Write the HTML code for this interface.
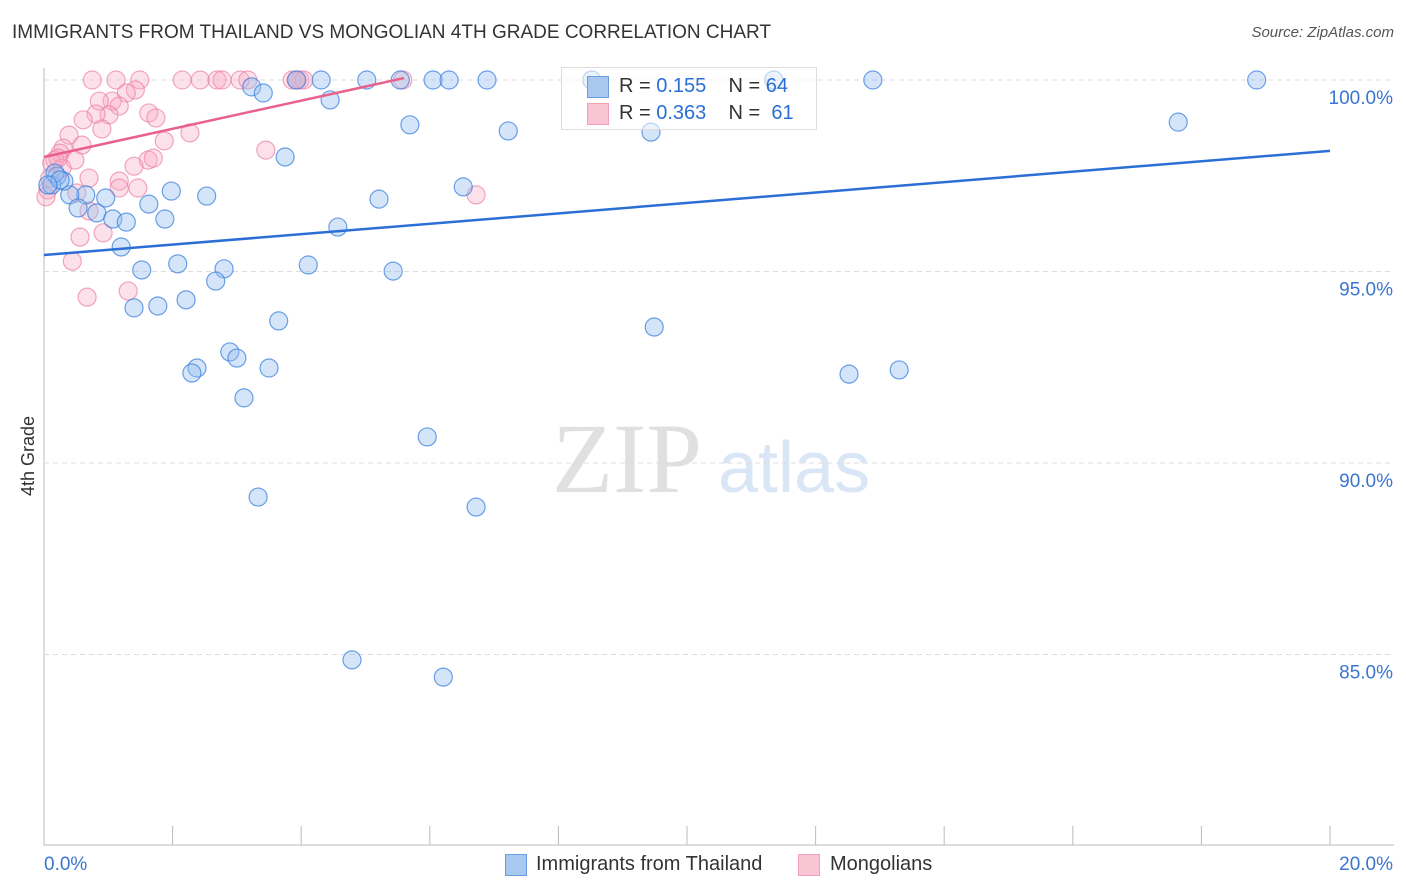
<!DOCTYPE html>
<html><head><meta charset="utf-8"><style>
body{margin:0;background:#fff;font-family:"Liberation Sans",sans-serif}
#wrap{position:relative;width:1406px;height:892px}
.t{position:absolute;white-space:nowrap}
</style></head><body>
<div id="wrap">
<div class="t" style="left:12px;top:22px;font-size:19px;color:#333">IMMIGRANTS FROM THAILAND VS MONGOLIAN 4TH GRADE CORRELATION CHART</div>
<div class="t" style="right:12px;top:24px;font-size:15px;color:#555;font-style:italic">Source: ZipAtlas.com</div>
<svg id="svg" width="1406" height="892" style="position:absolute;left:0;top:0">
<text x="552" y="492" font-family="Liberation Serif" font-size="100" fill="#e0e0e0">ZIP</text>
<text x="718" y="492" font-family="Liberation Sans" font-size="72" fill="#d8e6f6">atlas</text>
<text transform="translate(34,456) rotate(-90)" text-anchor="middle" font-size="18" fill="#333">4th Grade</text>
</svg>
<div class="t" style="left:561px;top:67px;width:254px;height:61px;border:1px solid #ddd;background:rgba(255,255,255,0.55)">
<div style="position:absolute;left:25px;top:8px;width:20px;height:20px;background:#a9c8f0;border:1px solid #6a9ce0"></div>
<div class="t" style="left:57px;top:7px;font-size:20px;color:#333">R = <span style="color:#2b6fd6">0.155</span>&nbsp;&nbsp;&nbsp; N = <span style="color:#2b6fd6">64</span></div>
<div style="position:absolute;left:25px;top:35px;width:20px;height:20px;background:#f9c4d4;border:1px solid #f0a0b8"></div>
<div class="t" style="left:57px;top:34px;font-size:20px;color:#333">R = <span style="color:#2b6fd6">0.363</span>&nbsp;&nbsp;&nbsp; N = &nbsp;<span style="color:#2b6fd6">61</span></div>
</div>
<div style="position:absolute;left:505px;top:854px;width:20px;height:20px;background:#a9c8f0;border:1px solid #6a9ce0"></div>
<div class="t" style="left:536px;top:853px;font-size:20px;color:#333">Immigrants from Thailand</div>
<div style="position:absolute;left:798px;top:854px;width:20px;height:20px;background:#f9c4d4;border:1px solid #f0a0b8"></div>
<div class="t" style="left:830px;top:853px;font-size:20px;color:#333">Mongolians</div>
</div>
<script>
const yTicks=[100,95,90,85];
const yTickLabels=["100.0%","95.0%","90.0%","85.0%"];
const xTickLabels=["0.0%","20.0%"];
const blueX=[8.52,11.35,12.89,18.86,6.05,6.30,6.89,5.02,4.31,3.93,5.54,3.23,3.41,4.45,5.69,7.22,9.44,17.64,3.75,6.52,1.98,2.53,5.21,1.63,0.96,0.65,0.40,0.31,0.20,0.12,0.53,0.82,1.07,1.28,1.88,4.57,1.20,1.52,2.08,2.80,4.11,5.43,2.67,1.40,1.77,2.21,3.65,9.49,2.89,3.00,2.38,2.30,3.50,12.52,13.30,3.11,5.96,3.33,6.72,4.79,6.21,0.17,0.25,0.06];
const blueY=[100,100,100,100,100,100,100,100,100,100,100,99.82,99.66,99.48,98.83,98.67,98.64,98.90,97.99,97.21,97.10,96.97,96.89,96.76,96.92,97.00,97.00,97.36,97.49,97.26,96.66,96.53,96.37,96.29,96.37,96.16,95.64,95.04,95.20,95.07,95.17,95.01,94.75,94.05,94.10,94.26,93.71,93.55,92.90,92.74,92.48,92.35,92.48,92.32,92.43,91.70,90.68,89.11,88.85,84.86,84.41,97.57,97.39,97.26];
const pinkX=[0.75,1.12,1.49,2.15,2.43,2.69,2.77,3.05,3.17,3.86,3.98,4.04,5.58,3.92,1.42,1.28,1.06,0.86,1.17,1.01,0.81,1.63,1.74,0.61,0.90,0.39,2.27,0.30,0.59,1.87,3.45,0.25,0.17,0.12,0.48,1.62,1.70,1.40,0.28,0.70,1.17,1.46,1.17,0.51,6.72,0.06,0.03,0.70,0.92,0.56,0.44,0.67,1.31,0.09,0.22];
const pinkY=[100,100,100,100,100,100,100,100,100,100,100,100,100,100,99.74,99.66,99.45,99.45,99.32,99.09,99.11,99.14,99.01,98.96,98.72,98.56,98.62,98.22,98.30,98.41,98.17,98.09,97.91,97.83,97.91,97.91,97.96,97.75,97.70,97.44,97.36,97.18,97.18,97.05,97.00,97.13,96.95,96.58,96.01,95.90,95.27,94.33,94.49,97.44,97.96];
const blueTrendX=[0,20], blueTrendY=[95.43,98.15];
const pinkTrendX=[0,5.6], pinkTrendY=[97.99,100.05];
const X0=44,X1=1330,Y100=80,PXPER=38.3;
const sx=v=>X0+(X1-X0)*v/20;
const sy=v=>Y100+(100-v)*PXPER;
const svg=document.getElementById('svg');
const NS='http://www.w3.org/2000/svg';
function mk(tag,attrs){const e=document.createElementNS(NS,tag);for(const k in attrs)e.setAttribute(k,attrs[k]);svg.appendChild(e);return e;}
let ax=mk('line',{x1:X0,y1:68,x2:X0,y2:845,stroke:'#bbb'});


let bx=mk('line',{x1:X0,y1:845,x2:1394,y2:845,stroke:'#bbb'});


for(let i=0;i<=10;i++){const t=mk('line',{x1:sx(i*2),y1:826,x2:sx(i*2),y2:845,stroke:'#bbb'});

}
yTicks.forEach((v,i)=>{const g=mk('line',{x1:X0,y1:sy(v),x2:1394,y2:sy(v),stroke:'#ddd','stroke-dasharray':'5,4'});


const t=mk('text',{x:1393,y:sy(v)+24,'text-anchor':'end','font-size':19,fill:'#3a75d0'});t.textContent=yTickLabels[i];

});
xTickLabels.forEach((l,i)=>{const t=mk('text',{x:i?1393:44,y:870,'text-anchor':i?'end':'start','font-size':19,fill:'#3a75d0'});t.textContent=l;

});
pinkX.forEach((x,i)=>{const c=mk('circle',{cx:sx(x),cy:sy(pinkY[i]),r:9,fill:'rgba(248,170,195,0.35)',stroke:'rgba(235,130,165,0.7)','stroke-width':1.2});

});
blueX.forEach((x,i)=>{const c=mk('circle',{cx:sx(x),cy:sy(blueY[i]),r:9,fill:'rgba(150,190,240,0.4)',stroke:'rgba(60,130,220,0.75)','stroke-width':1.2});

});
let bl=mk('line',{x1:sx(blueTrendX[0]),y1:sy(blueTrendY[0]),x2:sx(blueTrendX[1]),y2:sy(blueTrendY[1]),stroke:'#2b6fd6','stroke-width':2.5});


let pl=mk('line',{x1:sx(pinkTrendX[0]),y1:sy(pinkTrendY[0]),x2:sx(pinkTrendX[1]),y2:sy(pinkTrendY[1]),stroke:'#e8618c','stroke-width':2.5});


</script>
</body></html>
